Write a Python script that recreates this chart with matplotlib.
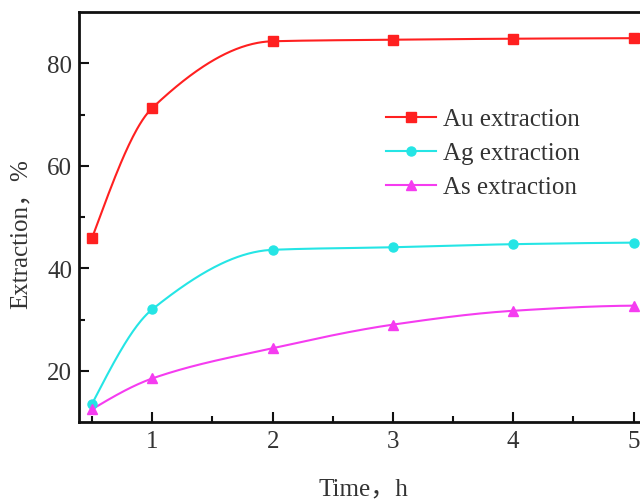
import numpy as np
import matplotlib
matplotlib.use("Agg")
import matplotlib.pyplot as plt

time_h = [0.5, 1, 2, 3, 4, 5]
au = [46.0, 71.3, 84.3, 84.6, 84.8, 84.9]
ag = [13.6, 32.0, 43.6, 44.1, 44.7, 45.0]
as_ = [12.5, 18.5, 24.4, 29.0, 31.7, 32.7]
labels = ["Au extraction", "Ag extraction", "As extraction"]
colors = ["#FF2020", "#25E5E5", "#F53CF0"]
markers = ["s", "o", "^"]


def pchip(x, y, xs):
    x = np.asarray(x, float); y = np.asarray(y, float)
    h = np.diff(x); d = np.diff(y) / h
    n = len(x); m = np.zeros(n)
    for k in range(1, n - 1):
        if d[k - 1] * d[k] > 0:
            w1 = 2 * h[k] + h[k - 1]; w2 = h[k] + 2 * h[k - 1]
            m[k] = (w1 + w2) / (w1 / d[k - 1] + w2 / d[k])
    m[0] = ((2 * h[0] + h[1]) * d[0] - h[0] * d[1]) / (h[0] + h[1])
    m[-1] = ((2 * h[-1] + h[-2]) * d[-1] - h[-1] * d[-2]) / (h[-1] + h[-2])
    out = np.empty_like(xs)
    for i, xv in enumerate(xs):
        k = min(max(np.searchsorted(x, xv) - 1, 0), n - 2)
        t = (xv - x[k]) / h[k]
        h00 = 2 * t**3 - 3 * t**2 + 1; h10 = t**3 - 2 * t**2 + t
        h01 = -2 * t**3 + 3 * t**2; h11 = t**3 - t**2
        out[i] = h00 * y[k] + h10 * h[k] * m[k] + h01 * y[k + 1] + h11 * h[k] * m[k + 1]
    return out


plt.rcParams['font.family'] = ['Liberation Serif', 'Noto Sans CJK SC']
fig = plt.figure(figsize=(6.4, 5.02), dpi=100)
ax = fig.add_axes([0.1234, 0.1574, 0.889, 0.8166])

xs = np.linspace(time_h[0], time_h[-1], 400)
for ys, lab, c, mk in zip([au, ag, as_], labels, colors, markers):
    ax.plot(xs, pchip(time_h, ys, xs), color=c, lw=1.5, zorder=2)
    ax.plot(time_h, ys, linestyle='none', marker=mk, color=c, ms=6.5, zorder=3)
    ax.plot([], [], color=c, lw=1.5, marker=mk, ms=6.5, label=lab)

ax.set_xlim(0.39, 5.12)
ax.set_ylim(10, 90)
ax.set_xticks([1, 2, 3, 4, 5])
ax.set_yticks([20, 40, 60, 80])
ax.set_xticks([0.5, 1.5, 2.5, 3.5, 4.5], minor=True)
ax.set_yticks([30, 50, 70], minor=True)
ax.tick_params(axis='x', which='major', pad=6)
ax.tick_params(axis='y', which='major', pad=5)
ax.tick_params(which='major', direction='in', length=7, width=1.5, labelsize=18, colors='#111111',
               labelcolor='#333333')
ax.tick_params(which='minor', direction='in', length=4, width=1.5, colors='#111111')
for s in ax.spines.values():
    s.set_linewidth(2)
    s.set_color('#111111')

ax.set_xlabel("Time，h", fontsize=18, color='#333333')
ax.set_ylabel("Extraction，%", fontsize=18, color='#333333')
ax.xaxis.set_label_coords(0.5, -0.135)
ax.yaxis.set_label_coords(-0.083, 0.46)

leg = ax.legend(loc='upper left', bbox_to_anchor=(0.517, 0.797), frameon=False, fontsize=18,
                handlelength=2.0, handletextpad=0.3, labelspacing=0.46, borderpad=0)
for t in leg.get_texts():
    t.set_color('#333333')

fig.savefig("out.png", dpi=100)
